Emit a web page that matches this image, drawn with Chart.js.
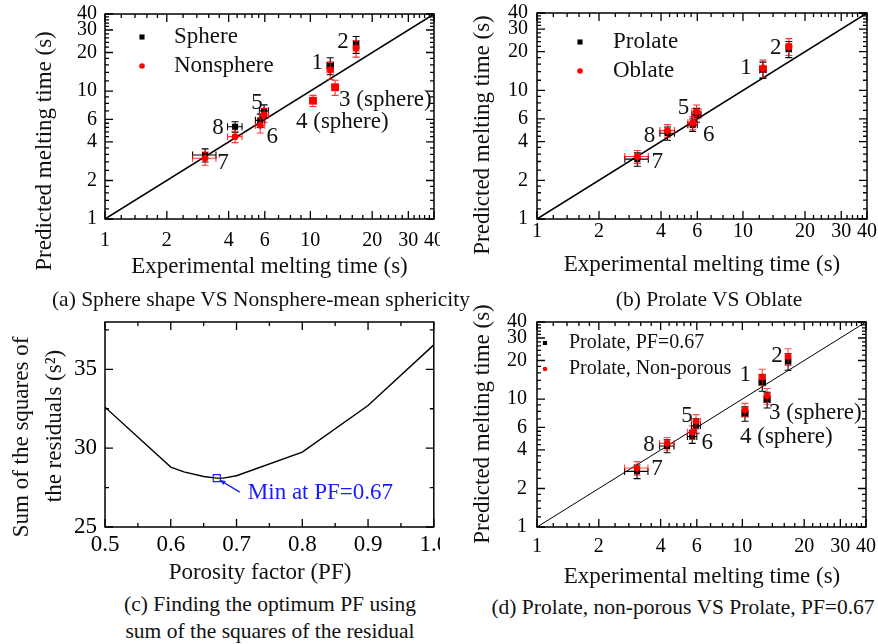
<!DOCTYPE html>
<html>
<head>
<meta charset="utf-8">
<script src="https://cdn.jsdelivr.net/npm/chart.js@4.4.1/dist/chart.umd.min.js"></script>
<style>
  body { margin: 0; background: #fff; }
  #wrap { position: relative; width: 878px; height: 644px; overflow: hidden; }
  canvas { position: absolute; }
  .cap { position: absolute; font: 21.5px "Liberation Serif", "Times New Roman", serif; color: #111;
         white-space: nowrap; transform: translateX(-50%); line-height: 27px; text-align: center; }
</style>
</head>
<body>
<div id="wrap">
  <canvas id="chartA" width="440" height="285" style="left:0;top:0"></canvas>
  <canvas id="chartB" width="438" height="285" style="left:440px;top:0"></canvas>
  <canvas id="chartC" width="440" height="300" style="left:0;top:290px"></canvas>
  <canvas id="chartD" width="438" height="300" style="left:440px;top:290px"></canvas>
  <div class="cap" style="left:261px;top:286px">(a) Sphere shape VS Nonsphere-mean sphericity</div>
  <div class="cap" style="left:709px;top:286px">(b) Prolate VS Oblate</div>
  <div class="cap" style="left:270px;top:591px">(c) Finding the optimum PF using<br>sum of the squares of the residual</div>
  <div class="cap" style="left:683px;top:594px">(d) Prolate, non-porous VS Prolate, PF=0.67</div>
</div>
<script>
const serif = '"Liberation Serif", "Times New Roman", serif';
Chart.defaults.font.family = serif;
Chart.defaults.color = '#000';

// point numbers 1..8, experimental melting time (s)
const pointNames = ['1', '2', '3 (sphere)', '4 (sphere)', '5', '6', '7', '8'];
const expTime = [12.5, 16.7, 13.2, 10.3, 5.95, 5.7, 3.07, 4.3];
const expErr  = [0.45, 0.5, 0.45, 0.35, 0.3, 0.3, 0.4, 0.35];

// (a) sphere vs nonsphere
const spherePred     = [15.8, 23.2, null, null, 7.0, 5.9, 3.16, 5.26];
const sphereErr      = [2.4, 3.5, null, null, 0.8, 0.7, 0.37, 0.5];
const nonspherePred  = [14.6, 21.6, null, null, 6.5, 5.4, 2.98, 4.4];
const nonsphereErr   = [2.3, 3.2, null, null, 0.8, 0.7, 0.35, 0.45];
const sphereOnlyPred = [null, null, 10.7, 8.4, null, null, null, null];
const sphereOnlyErr  = [null, null, 1.45, 0.85, null, null, null, null];

// (b) prolate vs oblate
const prolatePred = [14.5, 21.0, null, null, 6.45, 5.4, 2.92, 4.65];
const prolateErr  = [2.1, 3.0, null, null, 0.8, 0.6, 0.35, 0.55];
const oblatePred  = [14.9, 22.0, null, null, 6.85, 5.6, 3.06, 4.87];
const oblateErr   = [2.3, 3.3, null, null, 0.85, 0.65, 0.35, 0.55];

// (c) sum of squared residuals vs porosity factor
const pfValues  = [0.5, 0.6, 0.62, 0.65, 0.67, 0.68, 0.7, 0.8, 0.9, 1.0];
const ssrValues = [32.6, 28.8, 28.5, 28.2, 28.1, 28.1, 28.25, 29.75, 32.7, 36.55];
const pfOpt = 0.67;
const ssrOpt = 28.1;

// (d) prolate PF=0.67 vs prolate non-porous
const pf067Pred     = [13.5, 19.7, 9.9, 7.7, 6.2, 5.1, 2.72, 4.3];
const pf067Err      = [2.0, 2.9, 1.4, 1.0, 0.8, 0.6, 0.33, 0.5];
const nonPorousPred = [14.9, 21.5, 10.6, 8.25, 6.7, 5.5, 2.89, 4.5];
const nonPorousErr  = [2.2, 3.2, 1.5, 1.0, 0.85, 0.65, 0.35, 0.5];

const logTicks = [1, 2, 4, 6, 10, 20, 30, 40];
const pfTicks = [0.5, 0.6, 0.7, 0.8, 0.9, 1.0];
const ssrTicks = [25, 30, 35];

// inside tick marks (style only)
const logMinor = [1.2, 1.4, 1.6, 1.8, 2.4, 2.8, 3.2, 3.6, 4.4, 4.8, 5.2, 5.6, 7, 8, 9,
                  12, 14, 16, 18, 22, 24, 26, 28, 32, 34, 36, 38];
const pfMinor = [0.55, 0.65, 0.75, 0.85, 0.95];
const ssrMinor = [27.5, 32.5, 37.5];

function points(pred, predErr) {
  const out = [];
  pred.forEach((y, i) => {
    if (y !== null) out.push({ x: expTime[i], y: y, xErr: expErr[i], yErr: predErr[i] });
  });
  return out;
}

function diagonal(width) {
  const lo = logTicks[0], hi = logTicks[logTicks.length - 1];
  return { data: [{ x: lo, y: lo }, { x: hi, y: hi }], showLine: true, pointRadius: 0,
           borderColor: '#000', borderWidth: width, order: 10 };
}

function axis(pos, kind, size, pad, fontSize) {
  const isX = pos === 'bottom';
  let base;
  if (kind === 'log') {
    base = { type: 'logarithmic', min: 1, max: 40,
             afterBuildTicks: s => { s.ticks = logTicks.map(v => ({ value: v })); } };
  } else if (kind === 'pf') {
    base = { type: 'linear', min: 0.5, max: 1.0,
             afterBuildTicks: s => { s.ticks = pfTicks.map(v => ({ value: v })); } };
  } else {
    base = { type: 'linear', min: 25, max: 38,
             afterBuildTicks: s => { s.ticks = ssrTicks.map(v => ({ value: v })); } };
  }
  return Object.assign(base, {
    position: pos,
    grid: { display: false, drawTicks: false },
    border: { display: false },
    ticks: {
      padding: pad, autoSkip: false, maxRotation: 0,
      font: { size: fontSize }, color: '#000',
      callback: kind === 'pf' ? v => Number(v).toFixed(1) : v => String(v)
    },
    afterFit: s => {
      if (isX) s.height = size; else s.width = size;
      s.paddingLeft = 0; s.paddingRight = 0; s.paddingTop = 0; s.paddingBottom = 0;
    }
  });
}

function baseOptions(lay, xAxis, yAxis) {
  return {
    responsive: false,
    animation: false,
    layout: { padding: { left: 0, top: lay.top, right: lay.right, bottom: 0 } },
    plugins: { legend: { display: false }, tooltip: { enabled: false } },
    scales: { x: xAxis, y: yAxis }
  };
}

function drawText(ctx, text, x, y, size, color, align, rot) {
  ctx.save();
  ctx.translate(x, y);
  if (rot) ctx.rotate(rot);
  ctx.font = size + 'px ' + serif;
  ctx.fillStyle = color;
  ctx.textAlign = align || 'center';
  ctx.textBaseline = 'middle';
  ctx.fillText(text, 0, 0);
  ctx.restore();
}

// frame and inside ticks on all four sides
function drawFrame(chart, cfg) {
  const { ctx, chartArea: a, scales: { x, y } } = chart;
  ctx.save();
  ctx.strokeStyle = '#000';
  ctx.lineWidth = 1.3;
  ctx.beginPath();
  cfg.xMajor.concat(cfg.xMinor).forEach((v, k) => {
    const len = k < cfg.xMajor.length ? 8 : 4;
    const p = x.getPixelForValue(v);
    ctx.moveTo(p, a.bottom); ctx.lineTo(p, a.bottom - len);
    ctx.moveTo(p, a.top); ctx.lineTo(p, a.top + len);
  });
  cfg.yMajor.concat(cfg.yMinor).forEach((v, k) => {
    const len = k < cfg.yMajor.length ? 8 : 4;
    const p = y.getPixelForValue(v);
    ctx.moveTo(a.left, p); ctx.lineTo(a.left + len, p);
    ctx.moveTo(a.right, p); ctx.lineTo(a.right - len, p);
  });
  ctx.stroke();
  ctx.lineWidth = 1.5;
  ctx.strokeRect(a.left, a.top, a.right - a.left, a.bottom - a.top);
  ctx.restore();
}

// error bars, point labels, legend, axis titles
function decorations(cfg) {
  return {
    id: 'decor',
    beforeDatasetDraw(chart, args) {
      const ds = chart.data.datasets[args.index];
      if (!ds.errColor) return;
      const { ctx, scales: { x, y } } = chart;
      const cap = 3.5;
      ctx.save();
      ctx.strokeStyle = ds.errColor;
      ctx.lineWidth = 1.1;
      ctx.beginPath();
      ds.data.forEach(p => {
        const px = x.getPixelForValue(p.x), py = y.getPixelForValue(p.y);
        const y0 = y.getPixelForValue(p.y - p.yErr), y1 = y.getPixelForValue(p.y + p.yErr);
        const x0 = x.getPixelForValue(p.x - p.xErr), x1 = x.getPixelForValue(p.x + p.xErr);
        ctx.moveTo(px, y0); ctx.lineTo(px, y1);
        ctx.moveTo(px - cap, y0); ctx.lineTo(px + cap, y0);
        ctx.moveTo(px - cap, y1); ctx.lineTo(px + cap, y1);
        ctx.moveTo(x0, py); ctx.lineTo(x1, py);
        ctx.moveTo(x0, py - cap); ctx.lineTo(x0, py + cap);
        ctx.moveTo(x1, py - cap); ctx.lineTo(x1, py + cap);
      });
      ctx.stroke();
      ctx.restore();
    },
    afterDraw(chart) {
      drawFrame(chart, cfg);
      const { ctx, scales: { x, y } } = chart;
      (cfg.labels || []).forEach(([i, dx, dy, align]) => {
        const px = x.getPixelForValue(expTime[i]);
        const py = y.getPixelForValue(cfg.anchor[i]);
        drawText(ctx, pointNames[i], px + dx, py + dy, 23, '#111', align);
      });
      (cfg.legend || []).forEach(item => {
        const ds = chart.data.datasets[item.ds];
        ctx.save();
        ctx.fillStyle = ds.backgroundColor;
        ctx.strokeStyle = ds.backgroundColor;
        Chart.helpers.drawPoint(ctx, { pointStyle: ds.pointStyle, radius: item.r, rotation: 0, borderWidth: 0 },
                                item.mx, item.my);
        ctx.restore();
        drawText(ctx, ds.label, item.tx, item.my, cfg.legendSize, '#111', 'left');
      });
      (cfg.titles || []).forEach(t => drawText(ctx, t.text, t.x, t.y, 23, '#111', 'center', t.rot ? -Math.PI / 2 : 0));
      if (cfg.note) cfg.note(chart);
    }
  };
}

// (a)
new Chart(document.getElementById('chartA'), {
  type: 'scatter',
  data: { datasets: [
    { label: 'Sphere', data: points(spherePred, sphereErr), pointStyle: 'rect', pointRadius: 4.3,
      pointBorderWidth: 0, backgroundColor: '#000', borderColor: '#000', errColor: '#000', order: 3 },
    { label: 'Nonsphere', data: points(nonspherePred, nonsphereErr), pointStyle: 'circle', pointRadius: 3.4,
      pointBorderWidth: 0, backgroundColor: '#f00', borderColor: '#f00', errColor: 'rgba(255,0,0,0.8)', order: 2 },
    { label: 'Sphere only', data: points(sphereOnlyPred, sphereOnlyErr), pointStyle: 'rect', pointRadius: 5.5,
      pointBorderWidth: 0, backgroundColor: '#f00', borderColor: '#f00', errColor: 'rgba(255,0,0,0.8)', order: 1 },
    diagonal(1.5)
  ] },
  options: baseOptions({ top: 14, right: 6 }, axis('bottom', 'log', 66, 10, 20), axis('left', 'log', 105, 8, 20)),
  plugins: [decorations({
    xMajor: logTicks, xMinor: logMinor, yMajor: logTicks, yMinor: logMinor,
    anchor: [15.8, 23.2, 10.7, 8.4, 7.0, 5.9, 3.16, 5.26],
    labels: [[0, -13, -3, 'center'], [1, -13, -2, 'center'], [2, 4, 13, 'left'], [3, -17, 21, 'left'],
             [4, -7, -8, 'center'], [5, 12, 17, 'center'], [6, 18, 8, 'center'], [7, -17, 1, 'center']],
    legend: [{ ds: 0, mx: 142, my: 37, r: 3.6, tx: 174 }, { ds: 1, mx: 142, my: 66, r: 2.8, tx: 174 }],
    legendSize: 23,
    titles: [{ text: 'Predicted melting time (s)', x: 45, y: 151, rot: true },
             { text: 'Experimental melting time (s)', x: 269.5, y: 267 }]
  })]
});

// (b)
new Chart(document.getElementById('chartB'), {
  type: 'scatter',
  data: { datasets: [
    { label: 'Prolate', data: points(prolatePred, prolateErr), pointStyle: 'rect', pointRadius: 4.3,
      pointBorderWidth: 0, backgroundColor: '#000', borderColor: '#000', errColor: '#000', order: 3 },
    { label: 'Oblate', data: points(oblatePred, oblateErr), pointStyle: 'circle', pointRadius: 3.6,
      pointBorderWidth: 0, backgroundColor: '#f00', borderColor: '#f00', errColor: 'rgba(255,0,0,0.8)', order: 2 },
    diagonal(1.5)
  ] },
  options: baseOptions({ top: 13, right: 11 }, axis('bottom', 'log', 66, 1, 20), axis('left', 'log', 97, 9, 20)),
  plugins: [decorations({
    xMajor: logTicks, xMinor: logMinor, yMajor: logTicks, yMinor: logMinor,
    anchor: prolatePred,
    labels: [[0, -17, -2, 'center'], [1, -13, -1, 'center'], [4, -13, -7, 'center'],
             [5, 16, 10, 'center'], [6, 20, 3, 'center'], [7, -18, 3, 'center']],
    legend: [{ ds: 0, mx: 140, my: 42, r: 3.6, tx: 173 }, { ds: 1, mx: 140, my: 71, r: 2.8, tx: 173 }],
    legendSize: 23,
    titles: [{ text: 'Predicted melting time (s)', x: 43, y: 135, rot: true },
             { text: 'Experimental melting time (s)', x: 262, y: 265 }]
  })]
});

// (c)
new Chart(document.getElementById('chartC'), {
  type: 'scatter',
  data: { datasets: [
    { data: pfValues.map((v, i) => ({ x: v, y: ssrValues[i] })), showLine: true, pointRadius: 0,
      borderColor: '#000', borderWidth: 1.4, order: 2 },
    { data: [{ x: pfOpt, y: ssrOpt }], pointStyle: 'rect', pointRadius: 5, pointBorderWidth: 1.2,
      backgroundColor: 'rgba(0,0,0,0)', borderColor: '#1a1aff', order: 1 }
  ] },
  options: baseOptions({ top: 32, right: 6 }, axis('bottom', 'pf', 63, 4, 23), axis('left', 'ssr', 105, 8, 23)),
  plugins: [decorations({
    xMajor: pfTicks, xMinor: pfMinor, yMajor: ssrTicks, yMinor: ssrMinor,
    titles: [{ text: 'Sum of the squares of', x: 22, y: 147, rot: true },
             { text: 'the residuals (s²)', x: 55, y: 136, rot: true },
             { text: 'Porosity factor (PF)', x: 260, y: 283 }],
    note(chart) {
      const { ctx, scales: { x, y } } = chart;
      const px = x.getPixelForValue(pfOpt), py = y.getPixelForValue(ssrOpt);
      const sx = px + 23, sy = py + 14, ex = px + 3, ey = py + 2;
      const ang = Math.atan2(ey - sy, ex - sx);
      ctx.save();
      ctx.strokeStyle = '#1a1aff';
      ctx.fillStyle = '#1a1aff';
      ctx.lineWidth = 1.2;
      ctx.beginPath(); ctx.moveTo(sx, sy); ctx.lineTo(ex, ey); ctx.stroke();
      ctx.beginPath();
      ctx.moveTo(ex, ey);
      ctx.lineTo(ex - 6 * Math.cos(ang - 0.4), ey - 6 * Math.sin(ang - 0.4));
      ctx.lineTo(ex - 6 * Math.cos(ang + 0.4), ey - 6 * Math.sin(ang + 0.4));
      ctx.closePath(); ctx.fill();
      ctx.restore();
      drawText(ctx, 'Min at PF=' + pfOpt, px + 31, py + 15, 23, '#1a1aff', 'left');
    }
  })]
});

// (d)
new Chart(document.getElementById('chartD'), {
  type: 'scatter',
  data: { datasets: [
    { label: 'Prolate, PF=0.67', data: points(pf067Pred, pf067Err), pointStyle: 'rect', pointRadius: 4.3,
      pointBorderWidth: 0, backgroundColor: '#000', borderColor: '#000', errColor: '#000', order: 3 },
    { label: 'Prolate, Non-porous', data: points(nonPorousPred, nonPorousErr), pointStyle: 'circle', pointRadius: 3.3,
      pointBorderWidth: 0, backgroundColor: '#f00', borderColor: '#f00', errColor: 'rgba(255,0,0,0.7)', order: 2 },
    diagonal(1)
  ] },
  options: baseOptions({ top: 32, right: 12 }, axis('bottom', 'log', 63, 8, 20), axis('left', 'log', 97, 10, 20)),
  plugins: [decorations({
    xMajor: logTicks, xMinor: logMinor, yMajor: logTicks, yMinor: logMinor,
    anchor: pf067Pred,
    labels: [[0, -17, -7, 'center'], [1, -11, -5, 'center'], [2, 2, 13, 'left'], [3, -5, 23, 'left'],
             [4, -9, -10, 'center'], [5, 15, 6, 'center'], [6, 20, -2, 'center'], [7, -18, -1, 'center']],
    legend: [{ ds: 0, mx: 105, my: 53, r: 2.9, tx: 129 }, { ds: 1, mx: 105, my: 79, r: 2.3, tx: 129 }],
    legendSize: 20,
    titles: [{ text: 'Predicted melting time (s)', x: 43, y: 134, rot: true },
             { text: 'Experimental melting time (s)', x: 262, y: 287 }]
  })]
});
</script>
</body>
</html>
